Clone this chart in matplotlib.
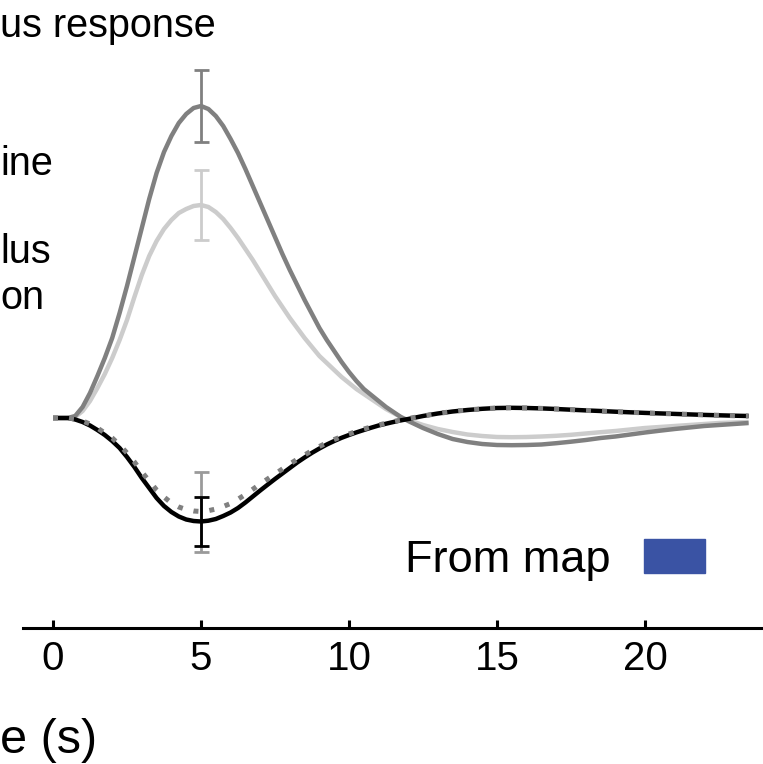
import numpy as np
import matplotlib
matplotlib.use("Agg")
import matplotlib.pyplot as plt
from matplotlib.patches import Rectangle

plt.rcParams['font.family'] = ['Liberation Sans', 'DejaVu Sans']

# time axis (s): every 0.25 s up to 12 s, then every 0.5 s
t = np.concatenate([np.arange(0, 12, 0.25), np.arange(12, 24, 0.5)])

# response curves (arbitrary units)
dark = [0, 0, 0, 0.02, 0.11, 0.25, 0.42, 0.60,
        0.80, 1.05, 1.32, 1.61, 1.90, 2.19, 2.45, 2.66,
        2.82, 2.95, 3.04, 3.10, 3.12, 3.09, 3.02, 2.92,
        2.79, 2.65, 2.49, 2.32, 2.15, 1.98, 1.81, 1.64,
        1.48, 1.33, 1.18, 1.04, 0.90, 0.78, 0.67, 0.56,
        0.46, 0.37, 0.29, 0.23, 0.17, 0.11, 0.06, 0.01,
        -0.03, -0.10, -0.16, -0.21, -0.24, -0.26, -0.27, -0.272,
        -0.27, -0.265, -0.252, -0.237, -0.22, -0.20, -0.185, -0.165,
        -0.145, -0.127, -0.11, -0.095, -0.08, -0.07, -0.06, -0.05]
light = [0, 0, 0, 0.01, 0.07, 0.17, 0.30, 0.44,
         0.60, 0.78, 0.98, 1.21, 1.43, 1.62, 1.77, 1.89,
         1.98, 2.05, 2.09, 2.12, 2.13, 2.11, 2.06, 1.99,
         1.90, 1.80, 1.69, 1.58, 1.46, 1.34, 1.22, 1.11,
         1.00, 0.90, 0.80, 0.71, 0.62, 0.55, 0.48, 0.41,
         0.35, 0.29, 0.24, 0.19, 0.14, 0.09, 0.05, 0.01,
         -0.02, -0.07, -0.11, -0.14, -0.165, -0.18, -0.19, -0.192,
         -0.19, -0.185, -0.178, -0.168, -0.155, -0.142, -0.13, -0.115,
         -0.10, -0.09, -0.08, -0.07, -0.06, -0.05, -0.045, -0.04]
black = [0, 0, 0, -0.015, -0.04, -0.075, -0.12, -0.17,
         -0.23, -0.30, -0.39, -0.49, -0.60, -0.70, -0.80, -0.88,
         -0.94, -0.985, -1.015, -1.03, -1.035, -1.027, -1.01, -0.98,
         -0.945, -0.90, -0.845, -0.785, -0.725, -0.667, -0.61, -0.555,
         -0.50, -0.445, -0.395, -0.348, -0.305, -0.265, -0.23, -0.198,
         -0.17, -0.144, -0.12, -0.097, -0.075, -0.057, -0.04, -0.024,
         -0.01, 0.02, 0.045, 0.065, 0.08, 0.092, 0.10, 0.102,
         0.10, 0.096, 0.09, 0.083, 0.076, 0.07, 0.063, 0.057,
         0.051, 0.046, 0.041, 0.036, 0.031, 0.027, 0.023, 0.02]
dotted = [0, 0, 0, -0.01, -0.03, -0.06, -0.10, -0.15,
          -0.20, -0.27, -0.35, -0.44, -0.54, -0.63, -0.72, -0.79,
          -0.85, -0.89, -0.915, -0.93, -0.935, -0.927, -0.91, -0.885,
          -0.855, -0.812, -0.765, -0.713, -0.66, -0.61, -0.56, -0.51,
          -0.46, -0.413, -0.37, -0.326, -0.285, -0.248, -0.215, -0.186,
          -0.16, -0.134, -0.11, -0.09, -0.07, -0.052, -0.035, -0.02,
          -0.005, 0.02, 0.045, 0.065, 0.08, 0.092, 0.10, 0.102,
          0.10, 0.096, 0.09, 0.083, 0.076, 0.07, 0.063, 0.057,
          0.051, 0.046, 0.041, 0.036, 0.031, 0.027, 0.023, 0.02]

# error bars at the peak (t = 5 s)
peak_t = 5
err_dark = 0.36
err_light = 0.35
err_black = 0.245
err_dotted = 0.40

xticks = [0, 5, 10, 15, 20]

# %%
fig = plt.figure(figsize=(7.63, 7.64), dpi=100)
W, H = 763, 764
ax = fig.add_axes([23 / W, 1 - 628 / H, 740 / W, 628 / H])

c_dark, c_light, c_mid = '#808080', '#cccccc', '#9a9a9a'
i5 = list(t).index(peak_t)

lkw = dict(lw=3.2, solid_joinstyle='round', solid_capstyle='butt')
ax.plot(t, light, color=c_light, zorder=2, **lkw)
ax.plot(t, dark, color=c_dark, zorder=3, **lkw)
ax.plot(t, black, color='black', zorder=4, **lkw)
ax.plot(t, dotted, color=c_dark, lw=3.6, ls=(0, (1.0, 2.2)), zorder=5)

ebkw = dict(fmt='none', capsize=5.4, elinewidth=2.0, capthick=2.0)
ax.errorbar(peak_t, light[i5], yerr=err_light, ecolor=c_light, zorder=2, **ebkw)
ax.errorbar(peak_t, dark[i5], yerr=err_dark, ecolor=c_dark, zorder=3, **ebkw)
ax.errorbar(peak_t, dotted[i5], yerr=err_dotted, ecolor=c_mid, zorder=3.5, **ebkw)
ax.errorbar(peak_t, black[i5], yerr=err_black, ecolor='black', zorder=6, **ebkw)

ax.set_xlim((23 - 53) / 29.6, (763 - 53) / 29.6)
ax.set_ylim(-2.10, 4.18)
ax.set_xticks(xticks)
ax.set_yticks([])
for s in ['top', 'right', 'left']:
    ax.spines[s].set_visible(False)
ax.spines['bottom'].set_linewidth(2.2)
ax.tick_params(axis='x', direction='in', length=6, width=2.2, labelsize=29, pad=9)
ax.patch.set_alpha(0)

# labels (cut off at the left edge of the crop)
fig.text(0, 1 - 37 / H, 'us response', fontsize=28.5, va='baseline', ha='left')
fig.text(0, 1 - 175 / H, 'ine', fontsize=28.5, va='baseline', ha='left')
fig.text(0, 1 - 263 / H, 'lus', fontsize=28.5, va='baseline', ha='left')
fig.text(0, 1 - 309 / H, 'on', fontsize=28.5, va='baseline', ha='left')
fig.text(0, 1 - 753 / H, 'e (s)', fontsize=35, va='baseline', ha='left')

# legend entry
fig.text(405 / W, 1 - 572 / H, 'From map', fontsize=32.5, va='baseline', ha='left')
fig.patches.append(Rectangle((644 / W, 1 - 573 / H), 61 / W, 34 / H,
                             transform=fig.transFigure, color='#3a53a4'))

fig.savefig('out.png', dpi=100)
